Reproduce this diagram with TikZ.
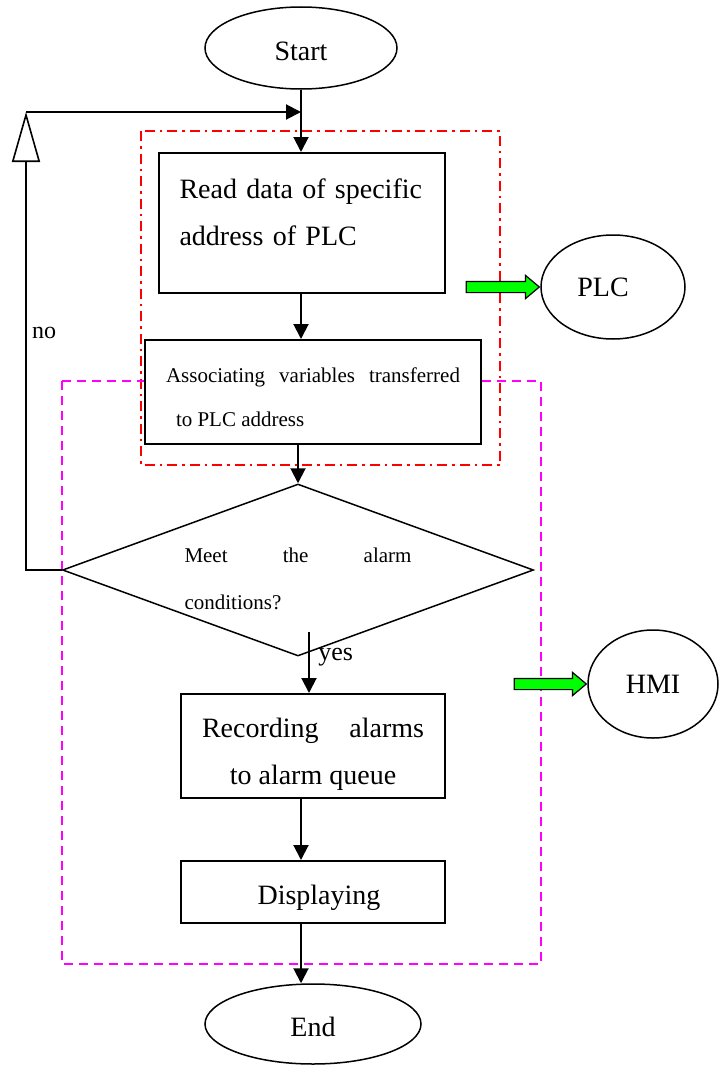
\documentclass[tikz,border=0pt]{standalone}
\usepackage{fontspec}
\setmainfont{Liberation Serif}
\usetikzlibrary{shapes.geometric,shapes.arrows,arrows.meta}
\definecolor{plcred}{RGB}{255,0,0}
\definecolor{hmimagenta}{RGB}{255,0,255}
\definecolor{feedgreen}{RGB}{0,255,0}

\tikzset{
	flowbox/.style={draw,fill=white,line width=2pt,inner sep=0pt,font=\fontsize{28}{47}\selectfont},
	termnode/.style={draw,ellipse,line width=1.5pt,inner sep=0pt,font=\fontsize{28}{32}\selectfont},
	flowarrow/.style={-{Triangle[length=15pt,width=15pt]},line width=2pt},
	feedarrow/.style={draw,single arrow,fill=feedgreen,line width=1.2pt,inner sep=5pt,minimum height=#1,single arrow head extend=6pt,single arrow tip angle=80,anchor=tip},
}

\begin{document}
\begin{tikzpicture}[x=1pt,y=-1pt]
			\useasboundingbox (0,0) rectangle (720,1065);
			\draw[plcred,line width=2.5pt,dash pattern=on 10pt off 5pt on 2.5pt off 5pt] (141,131) rectangle (500,465);
			\draw[hmimagenta,line width=2.5pt,dash pattern=on 9pt off 6pt] (62,381) rectangle (541,964);
			\node[termnode,minimum width=192pt,minimum height=82pt,text height=26pt] (start) at (301,48) {Start};
			\node[flowbox,minimum width=286pt,minimum height=140pt,text width=245pt,text depth=69pt,align=left] (read) at (302,223) {Read data of specific\\address of PLC};
			\node[flowbox,minimum width=336pt,minimum height=104pt,text height=70pt,font=\fontsize{21}{44}\selectfont,align=left] (assoc) at (313,392) {\makebox[294pt][l]{Associating\hfill variables\hfill transferred}\\\hspace*{10pt}to PLC address};
			\node[flowbox,diamond,line width=1.5pt,aspect=2.74,minimum width=471pt,minimum height=172pt,text height=79pt,font=\fontsize{21}{47}\selectfont,align=left] (alarm) at (298,570) {\makebox[227pt][l]{Meet\hfill the\hfill alarm}\\conditions?};
			\node[flowbox,minimum width=264pt,minimum height=104pt,text height=82pt,align=center] (record) at (313,746) {\makebox[222pt][l]{Recording\hfill alarms}\\to alarm queue};
			\node[flowbox,minimum width=264pt,minimum height=62pt,text height=31pt] (display) at (313,892) {\hspace*{12pt}Displaying};
			\node[termnode,minimum width=216pt,minimum height=80pt,text height=26pt] (stop) at (313,1024) {End};
			\node[termnode,minimum width=144pt,minimum height=104pt] (plc) at (613,287) {\hspace*{-20pt}PLC};
			\node[termnode,minimum width=130pt,minimum height=108pt] (hmi) at (653,684) {HMI};
			\node[feedarrow=73pt] (plcfeed) at (plc.west) {};
			\node[feedarrow=72pt] (hmifeed) at (hmi.west) {};
			\coordinate (joint) at (301,112);
			\coordinate (corner) at (26,112);
			\coordinate (yesstart) at (309,632);
			\draw[flowarrow] (start.south) -- (start.south |- read.north);
			\draw[-{Triangle[open,length=50pt,width=28pt]},line width=1.6pt] (alarm.west) -| (corner);
			\draw[flowarrow] (corner) -- (joint);
			\draw[flowarrow] (start.south |- read.south) -- (start.south |- assoc.north);
			\draw[flowarrow] (alarm.north |- assoc.south) -- (alarm.north);
			\draw[flowarrow] (yesstart) -- (yesstart |- record.north) node[pos=0.42,right,xshift=5pt,font=\fontsize{26}{30}\selectfont] (yes) {yes};
			\draw[flowarrow] (joint |- record.south) -- (joint |- display.north);
			\draw[flowarrow] (joint |- display.south) -- (joint |- stop.north);
			\node[font=\fontsize{24}{28}\selectfont] (no) at (44,333) {no};
		\end{tikzpicture}
\end{document}
